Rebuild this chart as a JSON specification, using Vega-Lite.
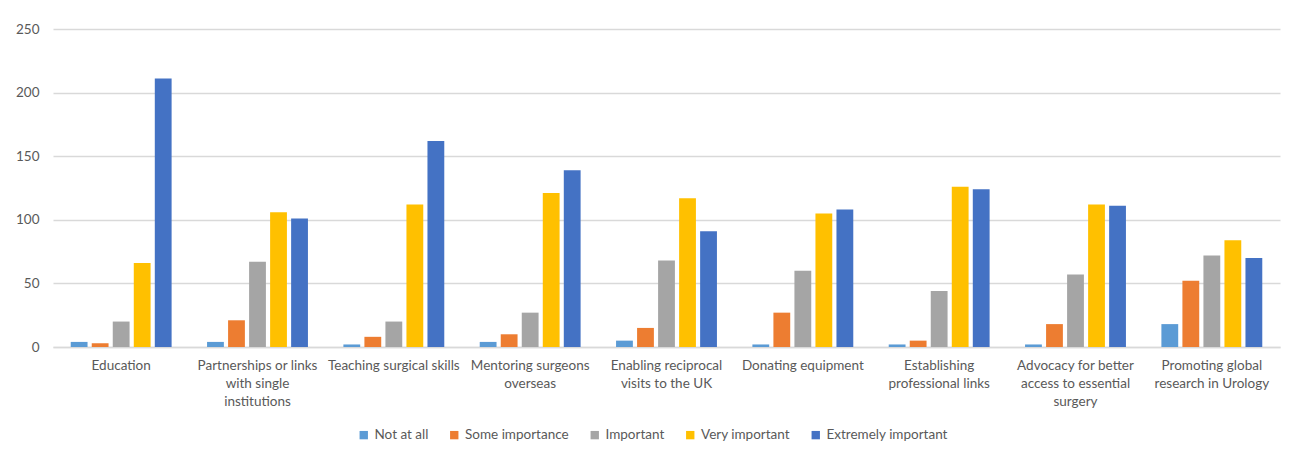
{
  "$schema": "https://vega.github.io/schema/vega-lite/v6.json",
  "autosize": {"type": "none"},
  "padding": {"left": 53, "top": 29, "right": 13, "bottom": 105},
  "width": 1227,
  "height": 318,
  "background": "white",
  "data": {"values": [
    {"cat": "Education", "level": "Not at all", "v": 4},
    {"cat": "Education", "level": "Some importance", "v": 3},
    {"cat": "Education", "level": "Important", "v": 20},
    {"cat": "Education", "level": "Very important", "v": 66},
    {"cat": "Education", "level": "Extremely important", "v": 211},
    {"cat": "Partnerships or links|with single|institutions", "level": "Not at all", "v": 4},
    {"cat": "Partnerships or links|with single|institutions", "level": "Some importance", "v": 21},
    {"cat": "Partnerships or links|with single|institutions", "level": "Important", "v": 67},
    {"cat": "Partnerships or links|with single|institutions", "level": "Very important", "v": 106},
    {"cat": "Partnerships or links|with single|institutions", "level": "Extremely important", "v": 101},
    {"cat": "Teaching surgical skills", "level": "Not at all", "v": 2},
    {"cat": "Teaching surgical skills", "level": "Some importance", "v": 8},
    {"cat": "Teaching surgical skills", "level": "Important", "v": 20},
    {"cat": "Teaching surgical skills", "level": "Very important", "v": 112},
    {"cat": "Teaching surgical skills", "level": "Extremely important", "v": 162},
    {"cat": "Mentoring surgeons|overseas", "level": "Not at all", "v": 4},
    {"cat": "Mentoring surgeons|overseas", "level": "Some importance", "v": 10},
    {"cat": "Mentoring surgeons|overseas", "level": "Important", "v": 27},
    {"cat": "Mentoring surgeons|overseas", "level": "Very important", "v": 121},
    {"cat": "Mentoring surgeons|overseas", "level": "Extremely important", "v": 139},
    {"cat": "Enabling reciprocal|visits to the UK", "level": "Not at all", "v": 5},
    {"cat": "Enabling reciprocal|visits to the UK", "level": "Some importance", "v": 15},
    {"cat": "Enabling reciprocal|visits to the UK", "level": "Important", "v": 68},
    {"cat": "Enabling reciprocal|visits to the UK", "level": "Very important", "v": 117},
    {"cat": "Enabling reciprocal|visits to the UK", "level": "Extremely important", "v": 91},
    {"cat": "Donating equipment", "level": "Not at all", "v": 2},
    {"cat": "Donating equipment", "level": "Some importance", "v": 27},
    {"cat": "Donating equipment", "level": "Important", "v": 60},
    {"cat": "Donating equipment", "level": "Very important", "v": 105},
    {"cat": "Donating equipment", "level": "Extremely important", "v": 108},
    {"cat": "Establishing|professional links", "level": "Not at all", "v": 2},
    {"cat": "Establishing|professional links", "level": "Some importance", "v": 5},
    {"cat": "Establishing|professional links", "level": "Important", "v": 44},
    {"cat": "Establishing|professional links", "level": "Very important", "v": 126},
    {"cat": "Establishing|professional links", "level": "Extremely important", "v": 124},
    {"cat": "Advocacy for better|access to essential|surgery", "level": "Not at all", "v": 2},
    {"cat": "Advocacy for better|access to essential|surgery", "level": "Some importance", "v": 18},
    {"cat": "Advocacy for better|access to essential|surgery", "level": "Important", "v": 57},
    {"cat": "Advocacy for better|access to essential|surgery", "level": "Very important", "v": 112},
    {"cat": "Advocacy for better|access to essential|surgery", "level": "Extremely important", "v": 111},
    {"cat": "Promoting global|research in Urology", "level": "Not at all", "v": 18},
    {"cat": "Promoting global|research in Urology", "level": "Some importance", "v": 52},
    {"cat": "Promoting global|research in Urology", "level": "Important", "v": 72},
    {"cat": "Promoting global|research in Urology", "level": "Very important", "v": 84},
    {"cat": "Promoting global|research in Urology", "level": "Extremely important", "v": 70}
  ]},
  "mark": {"type": "bar"},
  "encoding": {
    "x": {
      "field": "cat", "type": "nominal", "sort": null, "title": null,
      "scale": {"paddingInner": 0.26, "paddingOuter": 0.13},
      "axis": {
        "labelAngle": 0, "ticks": false, "domainColor": "#d9d9d9", "domainWidth": 1.5,
        "labelExpr": "split(datum.value, '|')", "labelLineHeight": 18, "labelPadding": 11,
        "labelFont": "Lato", "labelFontSize": 13.5, "labelColor": "#595959", "labelLimit": 0
      }
    },
    "xOffset": {
      "field": "level", "type": "nominal",
      "sort": ["Not at all", "Some importance", "Important", "Very important", "Extremely important"],
      "scale": {"paddingInner": 0.2, "paddingOuter": 0}
    },
    "y": {
      "field": "v", "type": "quantitative", "title": null,
      "scale": {"domain": [0, 250]},
      "axis": {
        "values": [0, 50, 100, 150, 200, 250], "ticks": false, "domain": false,
        "gridColor": "#d9d9d9", "gridWidth": 1.5, "labelPadding": 14,
        "labelFont": "Lato", "labelFontSize": 13.5, "labelColor": "#595959"
      }
    },
    "color": {
      "field": "level", "type": "nominal", "title": null,
      "sort": ["Not at all", "Some importance", "Important", "Very important", "Extremely important"],
      "scale": {
        "domain": ["Not at all", "Some importance", "Important", "Very important", "Extremely important"],
        "range": ["#5B9BD5", "#ED7D31", "#A5A5A5", "#FFC000", "#4472C4"]
      },
      "legend": {
        "orient": "none", "direction": "horizontal", "legendX": 304, "legendY": 399,
        "symbolType": "square", "symbolSize": 70, "symbolStrokeWidth": 0, "symbolOpacity": 1,
        "labelFont": "Lato", "labelFontSize": 13.5, "labelColor": "#595959",
        "columnPadding": 18.5, "labelOffset": 4
      }
    }
  },
  "config": {"view": {"stroke": null}}
}
